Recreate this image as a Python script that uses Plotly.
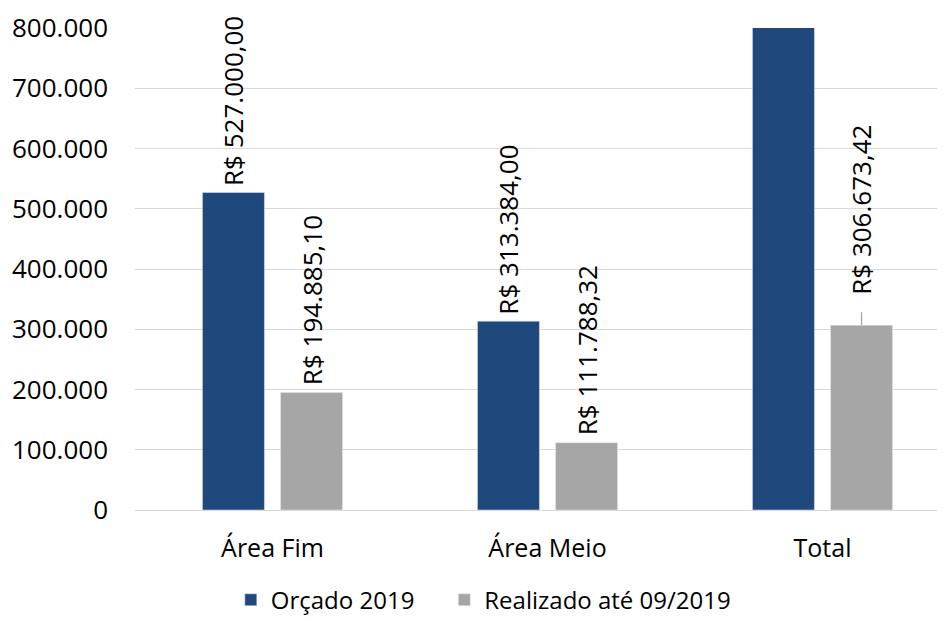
import plotly.graph_objects as go

categories = ["Área Fim", "Área Meio", "Total"]
orcado = [527000.00, 313384.00, 840384.00]
realizado = [194885.10, 111788.32, 306673.42]
series_names = ["Orçado 2019", "Realizado até 09/2019"]
y_ticks = [0, 100000, 200000, 300000, 400000, 500000, 600000, 700000, 800000]
y_max = 800000

BLUE = "#1F497D"
GRAY = "#A6A6A6"
FONT = "Open Sans"


def brl(v):
    s = f"{v:,.2f}".replace(",", "X").replace(".", ",").replace("X", ".")
    return "R$ " + s


def tick(v):
    return f"{v:,.0f}".replace(",", ".")


xs = list(range(len(categories)))
bw = 0.2255
sep = 0.142
PAD = "\u00a0" * 4  # extra spacing between legend entries

fig = go.Figure()
fig.add_trace(go.Bar(x=xs, y=orcado, name=series_names[0] + PAD, marker_color=BLUE,
                     width=bw, offset=-sep - bw / 2, hoverinfo="skip"))
fig.add_trace(go.Bar(x=xs, y=realizado, name=series_names[1], marker_color=GRAY,
                     width=bw, offset=sep - bw / 2, hoverinfo="skip"))

annotations = []
shapes = []
for i, x in enumerate(xs):
    for vals, dx in ((orcado, -sep), (realizado, sep)):
        v = vals[i]
        if v > y_max:
            continue
        shift = 28 if (vals is realizado and i == len(xs) - 1) else 5
        annotations.append(dict(x=x + dx, y=v, xref="x", yref="y", text=brl(v),
                                textangle=-90, showarrow=False, xanchor="center",
                                yanchor="bottom", yshift=shift,
                                font=dict(family=FONT, size=26, color="#000000")))
        if shift > 10:
            shapes.append(dict(type="line", xref="x", yref="y", x0=x + dx, x1=x + dx,
                               ysizemode="pixel", yanchor=v, y0=0, y1=13,
                               line=dict(color="#A6A6A6", width=1.3)))

fig.update_layout(
    width=945, height=621,
    margin=dict(l=127, r=8, t=20, b=119, autoexpand=False),
    paper_bgcolor="white", plot_bgcolor="white",
    font=dict(family=FONT, size=24, color="#000000"),
    showlegend=True,
    legend=dict(orientation="h", x=0.43, xanchor="center", y=-0.187, yanchor="middle",
                font=dict(family=FONT, size=24), itemwidth=30, traceorder="normal"),
    xaxis=dict(range=[-0.5, -0.5 + 810 / 275], tickvals=xs, ticktext=categories,
               tickfont=dict(size=25), automargin=False,
               showgrid=False, zeroline=False, showline=False, ticks="",
               ticklabelstandoff=21, fixedrange=True),
    yaxis=dict(range=[0, y_max], tickvals=y_ticks, ticktext=[tick(v) for v in y_ticks],
               tickfont=dict(size=26), automargin=False,
               showgrid=True, gridcolor="#D9D9D9", gridwidth=1.3, zeroline=True,
               zerolinecolor="#D9D9D9", zerolinewidth=1.3, showline=False, ticks="",
               ticklabelstandoff=26, fixedrange=True),
    annotations=annotations, shapes=shapes,
)

fig.write_html("out.html")
